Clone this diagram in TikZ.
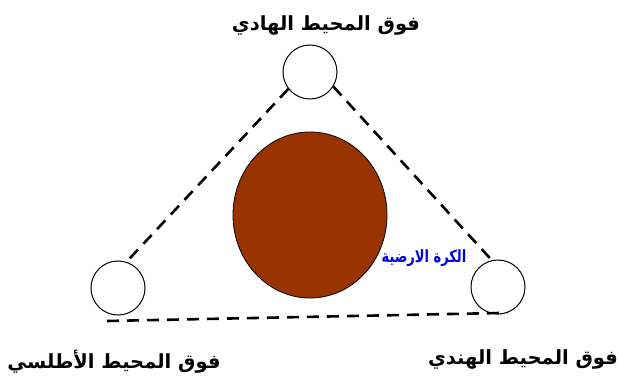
\documentclass[tikz,border=0pt]{standalone}
\usepackage{fontspec}
\usetikzlibrary{shapes.geometric}
\newfontfamily\arabicfont[Script=Arabic]{DejaVu Sans}
\TeXXeTstate=1
\definecolor{earthc}{RGB}{153,51,0}
\definecolor{bluec}{RGB}{0,0,230}
\begin{document}
\begin{tikzpicture}[x=1pt,y=-1pt,
  oc/.style={circle,draw,line width=1pt,minimum size=54pt,inner sep=0pt},
  dl/.style={line width=2.6pt,dash pattern=on 12pt off 8pt},
  lbl/.style={font=\arabicfont\bfseries\fontsize{19.5}{22}\selectfont,inner sep=0pt}]
\useasboundingbox (0,0) rectangle (619,382);
\node[oc] (pac) at (310,72) {};
\node[oc] (atl) at (118,288) {};
\node[oc] (ind) at (498,287) {};
\node[ellipse,draw,line width=0.8pt,minimum width=154pt,minimum height=166pt,inner sep=0pt,fill=earthc] (earth) at (310,215) {};
\coordinate (bl) at (107,321);
\draw[dl] (pac.218) -- (atl.72);
\draw[dl] (pac.-32) -- (ind.103);
\draw[dl] (bl) -- (ind.-70);
\node[lbl] (tpac) at (326,25) {\beginR فوق المحيط الهادي\endR};
\node[lbl] (tatl) at (114,362) {\beginR فوق المحيط الأطلسي\endR};
\node[lbl] (tind) at (523,359) {\beginR فوق المحيط الهندي\endR};
\node[font=\arabicfont\bfseries\fontsize{13}{15}\selectfont,text=bluec,inner sep=0pt,yscale=1.3,transform shape] (tearth) at (424,258) {\beginR الكرة الارضية\endR};
\end{tikzpicture}
\end{document}
